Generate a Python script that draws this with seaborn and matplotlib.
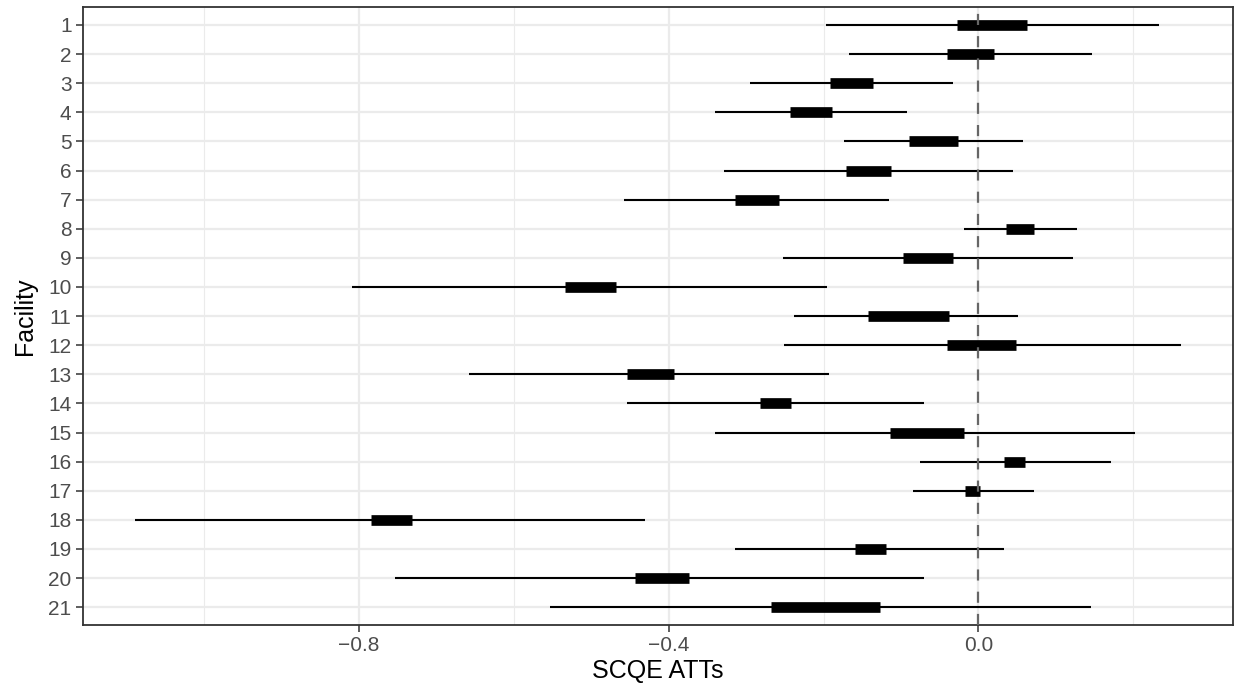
import numpy as np
import pandas as pd
import matplotlib
matplotlib.use("Agg")
import matplotlib.pyplot as plt
import seaborn as sns
from matplotlib.ticker import FixedLocator

# Facility-level SCQE ATTs: outer interval (thin line) and inner interval (thick bar)
facility = [str(i) for i in range(1, 22)]
outer_low = [-0.197, -0.167, -0.295, -0.340, -0.174, -0.328, -0.458, -0.019, -0.252, -0.809,
             -0.238, -0.251, -0.657, -0.454, -0.340, -0.076, -0.084, -1.089, -0.314, -0.753, -0.553]
outer_high = [0.233, 0.147, -0.033, -0.092, 0.058, 0.044, -0.115, 0.127, 0.122, -0.196,
              0.051, 0.261, -0.193, -0.070, 0.202, 0.171, 0.071, -0.430, 0.033, -0.070, 0.145]
inner_low = [-0.028, -0.040, -0.192, -0.243, -0.090, -0.171, -0.314, 0.036, -0.098, -0.533,
             -0.142, -0.040, -0.454, -0.282, -0.114, 0.033, -0.017, -0.784, -0.160, -0.443, -0.268]
inner_high = [0.063, 0.020, -0.136, -0.189, -0.026, -0.113, -0.257, 0.072, -0.033, -0.468,
              -0.038, 0.048, -0.393, -0.242, -0.019, 0.060, 0.002, -0.731, -0.120, -0.373, -0.127]

df = pd.DataFrame({"facility": facility, "outer_low": outer_low, "outer_high": outer_high,
                   "inner_low": inner_low, "inner_high": inner_high})
df["pos"] = np.arange(len(df))

sns.set_theme(style="whitegrid")
plt.rcParams["font.family"] = ["Liberation Sans", "DejaVu Sans"]

fig = plt.figure(figsize=(12.36, 6.92), dpi=100)
ax = fig.add_axes([0.0669, 0.0973, 0.9304, 0.8919])

# Thin outer intervals
ax.hlines(df["pos"], df["outer_low"], df["outer_high"], color="black", lw=1.5, zorder=3)
# Thick inner intervals
ax.hlines(df["pos"], df["inner_low"], df["inner_high"], color="black", lw=7.7, zorder=4,
          capstyle="butt")
# Reference line at zero
ax.axvline(0, color="#666666", lw=1.6, ls=(0, (5, 5)), zorder=5)

ax.set_xlim(-1.156, 0.328)
ax.set_ylim(len(df) - 0.4, -0.6)
ax.set_yticks(df["pos"])
ax.set_yticklabels(df["facility"])
ax.set_xticks([-0.8, -0.4, 0.0])
ax.set_xticklabels(["\u22120.8", "\u22120.4", "0.0"])
ax.xaxis.set_minor_locator(FixedLocator([-1.0, -0.6, -0.2, 0.2]))

ax.set_facecolor("white")
ax.grid(which="major", color="#ebebeb", lw=1.6, zorder=0)
ax.grid(which="minor", axis="x", color="#ebebeb", lw=0.8, zorder=0)
ax.set_axisbelow(True)
for s in ax.spines.values():
    s.set_color("#333333")
    s.set_linewidth(1.3)

ax.tick_params(axis="both", which="major", length=5, width=1.1, color="#333333",
               labelsize=15, labelcolor="#4d4d4d", pad=3, bottom=True, left=True)
ax.tick_params(axis="x", which="minor", length=0)

ax.set_xlabel("SCQE ATTs", fontsize=18, color="black", labelpad=3)
ax.set_ylabel("Facility", fontsize=18, color="black", labelpad=8)

fig.savefig("out.png", dpi=100)
